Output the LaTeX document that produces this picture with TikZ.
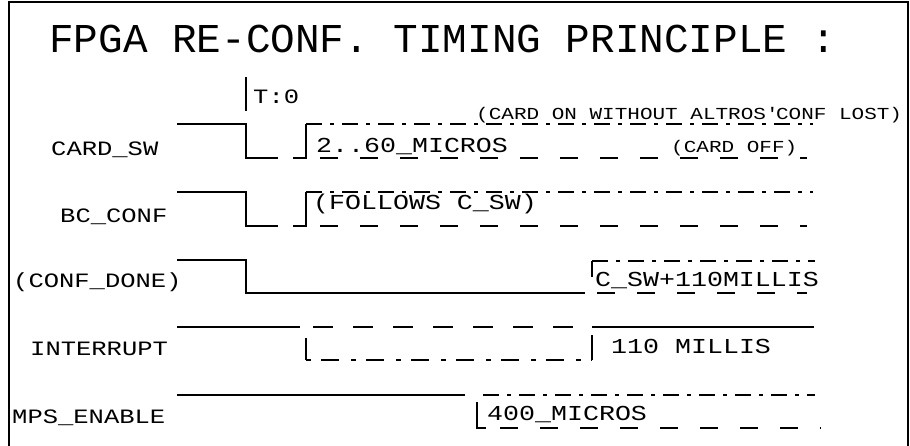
\documentclass[tikz,border=0pt]{standalone}
\usepackage{fontspec}
\setmonofont{Liberation Mono}
\newfontfamily\plotfont[FakeStretch=1.25]{Liberation Mono}
\usetikzlibrary{calc}
\tikzset{
  sig/.style={line width=1.1pt},
  sigdash/.style={sig, dash pattern=on 18pt off 22pt},
  sigdot/.style={sig, dash pattern=on 16pt off 8pt on 4pt off 8pt},
  name text/.style={font=\plotfont\fontsize{20.4}{21}\selectfont, anchor=base west, inner sep=0pt},
  note text/.style={font=\plotfont\fontsize{21.3}{22}\selectfont, anchor=base west, inner sep=0pt},
  small text/.style={font=\plotfont\fontsize{16.8}{17}\selectfont, anchor=base west, inner sep=0pt}
}

\begin{document}
\begin{tikzpicture}[x=1pt,y=-1pt]
  \useasboundingbox (0,0) rectangle (910,445);
  \draw[line width=2pt] (9,450) -- (9,2) -- (908,2) -- (908,450);

  \node (title) [font=\ttfamily\fontsize{41}{42}\selectfont, anchor=base west, inner sep=0pt] at (49,52) {FPGA RE-CONF. TIMING PRINCIPLE :};

  % time zero
  \draw[sig] (246,77) -- (246,111);
  \node (tzero) [name text] at (253,103) {T:0};

  % signal names
  \node (cardsw_label) [name text] at (51,155) {CARD\_SW};
  \node (bcconf_label) [name text] at (60,222) {BC\_CONF};
  \node (confdone_label) [name text] at (13,287) {(CONF\_DONE)};
  \node (interrupt_label) [name text] at (30,355) {INTERRUPT};
  \node (mps_label) [name text] at (12,423) {MPS\_ENABLE};

  % card switch and bc conf have the same shape
  \foreach \y in {124,192}
  {
    \draw[sig] (177,\y) -- (246,\y) -- (246,{\y+34}) -- (278,{\y+34});
    \draw[sig] (293,{\y+34}) -- (306,{\y+34}) -- (306,\y);
    \draw[sigdot] (306,\y) -- (813,\y);
    \draw[sigdash] (320,{\y+34}) -- (807,{\y+34});
  }
  \node (cardsw_time) [note text] at (316,152) {2..60\_MICROS};
  \node (cardsw_on) [small text] at (476,119) {(CARD ON WITHOUT ALTROS\textquotesingle CONF LOST)};
  \node (cardsw_off) [small text] at (671,152) {(CARD OFF)};
  \node (bcconf_note) [note text] at (313,209) {(FOLLOWS C\_SW)};

  % conf done
  \draw[sig] (177,260) -- (246,260) -- (246,293) -- (585,293);
  \draw[sig] (592,277) -- (592,261);
  \draw[sigdot] (592,261) -- (815,261);
  \draw[sigdash] (597,293) -- (807,293);
  \node (confdone_time) [note text] at (595,286) {C\_SW+110MILLIS};

  % interrupt
  \draw[sig] (177,327) -- (300,327);
  \draw[sigdash, dash pattern=on 20pt off 20pt] (313,327) -- (578,327);
  \draw[sig] (592,327) -- (814,327);
  \draw[sig] (306,338) -- (306,360);
  \draw[sigdot, dash pattern=on 5pt off 10pt on 18pt off 12pt] (306,360) -- (592,360);
  \draw[sig] (592,360) -- (592,335);
  \node (interrupt_time) [note text] at (611,353) {110 MILLIS};

  % mps enable
  \draw[sig] (177,395) -- (465,395);
  \draw[sigdot] (483,395) -- (815,395);
  \draw[sig] (477,402) -- (477,428) -- (486,428);
  \draw[sigdash] (500,428) -- (821,428);
  \node (mps_time) [note text] at (487,420) {400\_MICROS};
\end{tikzpicture}
\end{document}
